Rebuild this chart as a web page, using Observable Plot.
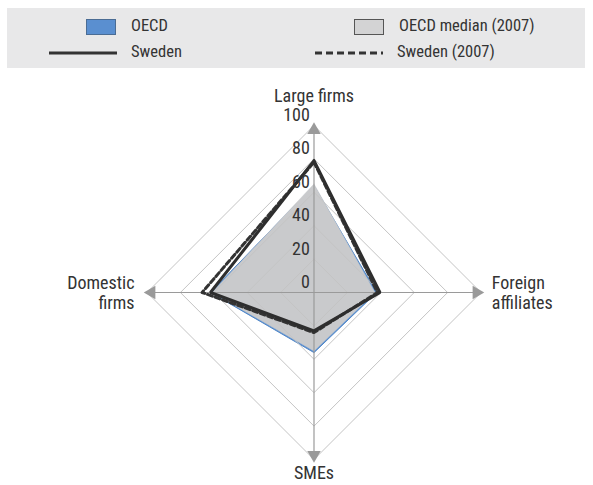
<!DOCTYPE html>
<html><head><meta charset="utf-8">
<script src="https://cdn.jsdelivr.net/npm/d3@7"></script>
<script src="https://cdn.jsdelivr.net/npm/@observablehq/plot@0.6"></script>
<style>
html,body{margin:0;background:#fff;overflow:hidden;}
body{font-family:"Roboto Condensed","DejaVu Sans Condensed","Liberation Sans Narrow","DejaVu Sans",sans-serif;font-stretch:condensed;color:#333;}
#legend{position:relative;margin:8px 8px 0 7px;height:60px;background:#e8e8e9;font-size:16.5px;}
#legend .it{position:absolute;line-height:18px;}
#legend svg{position:absolute;left:0;top:0;}
#chart{margin-top:2px;}
</style></head>
<body>
<div id="legend"></div>
<div id="chart"></div>
<script>
const axes = ["Large firms", "Foreign affiliates", "SMEs", "Domestic firms"];
const dirs = [[0,1],[1,0],[0,-1],[-1,0]];
const oecd = [64, 37.5, 36, 62];
const oecdMedian2007 = [65, 36.5, 35, 61];
const sweden = [79, 39.5, 23, 62];
const sweden2007 = [78, 38, 24, 67];
const ticks = [0, 20, 40, 60, 80, 100];

const FONT = '"Roboto Condensed","DejaVu Sans Condensed","Liberation Sans Narrow","DejaVu Sans",sans-serif';

const legendItems = [
  {label:"OECD", kind:"fill", color:"#5a8fd0", border:"#4a6c94", x:79, y:19},
  {label:"OECD median (2007)", kind:"fill", color:"#d3d3d4", border:"#555", x:347, y:19},
  {label:"Sweden", kind:"solid", x:42, y:45},
  {label:"Sweden (2007)", kind:"dash", x:308, y:45}
];
const leg = document.getElementById("legend");
const NS = "http://www.w3.org/2000/svg";
const lsvg = document.createElementNS(NS, "svg");
lsvg.setAttribute("width", 578); lsvg.setAttribute("height", 60);
leg.appendChild(lsvg);
for (const it of legendItems) {
  if (it.kind === "fill") {
    const r = document.createElementNS(NS, "rect");
    r.setAttribute("x", it.x + 0.5); r.setAttribute("y", it.y - 7.5);
    r.setAttribute("width", 29); r.setAttribute("height", 15);
    r.setAttribute("fill", it.color); r.setAttribute("stroke", it.border);
    lsvg.appendChild(r);
  } else {
    const l = document.createElementNS(NS, "line");
    l.setAttribute("x1", it.x); l.setAttribute("x2", it.x + 68);
    l.setAttribute("y1", it.y); l.setAttribute("y2", it.y);
    l.setAttribute("stroke", "#333"); l.setAttribute("stroke-width", 3);
    if (it.kind === "dash") l.setAttribute("stroke-dasharray", "7,4");
    lsvg.appendChild(l);
  }
  const t = document.createElement("div"); t.className="it";
  t.textContent = it.label;
  Object.assign(t.style,{left:(it.kind==="fill"? it.x+45 : it.x+82)+"px", top:(it.y-10)+"px"});
  leg.appendChild(t);
}

function poly(vals, name) {
  const pts = vals.map((v,i)=>({x:v*dirs[i][0], y:v*dirs[i][1], s:name}));
  pts.push({...pts[0]});
  return pts;
}
const rings = [];
for (const r of ticks.slice(1)) {
  for (let i=0;i<=4;i++){ const d=dirs[i%4]; rings.push({x:r*d[0], y:r*d[1], r}); }
}
const spokes = dirs.map((d,i)=>({x1:0,y1:0,x2:100*d[0],y2:100*d[1]}));
const heads = dirs.map((d,i)=>({x:97.3*d[0], y:97.3*d[1], rot:[0,90,180,270][i]}));
const tickLabels = ticks.map(t=>({x:-2.5, y:t+2.5, t:String(t)}));
const labelsMiddle = [
  {x:0, y:117.5, t:"Large firms"},
  {x:0, y:-108.5, t:"SMEs"}
];
const labelsStart = [{x:106.5, y:0, t:"Foreign\naffiliates"}];
const labelsEnd = [{x:-107.5, y:0, t:"Domestic\nfirms"}];

const plot = Plot.plot({
  width: 593, height: 415,
  marginLeft: 146.5, marginRight: 112.5, marginTop: 55, marginBottom: 26,
  x: {domain:[-100,100], axis:null},
  y: {domain:[-100,100], axis:null},
  style: {fontFamily: FONT, fontStretch:"condensed", color:"#333", background:"#fff", maxWidth:"none"},
  marks: [
    Plot.line(poly(oecd,"OECD"), {x:"x", y:"y", fill:"#5a8fd0", stroke:"#4f86c8", strokeWidth:1}),
    Plot.line(poly(oecdMedian2007,"median"), {x:"x", y:"y", fill:"#c9cacc", stroke:"#c9cacc", strokeWidth:0.5}),
    Plot.line(rings, {x:"x", y:"y", z:"r", stroke:"#c4c4c4", strokeWidth:1, curve:"linear"}),
    Plot.link(spokes, {x1:"x1", y1:"y1", x2:"x2", y2:"y2", stroke:"#9a9a9a", strokeWidth:1.2}),
    Plot.dot(heads, {x:"x", y:"y", symbol:"triangle", rotate:"rot", r:5, fill:"#9a9a9a", stroke:"none"}),
    Plot.line(poly(sweden2007,"Sweden 2007"), {x:"x", y:"y", stroke:"#333", strokeWidth:3, strokeDasharray:"5,3"}),
    Plot.line(poly(sweden,"Sweden"), {x:"x", y:"y", stroke:"#2e2e2e", strokeWidth:3, strokeLinejoin:"miter"}),
    Plot.text(tickLabels, {x:"x", y:"y", text:"t", textAnchor:"end", dy:-6, fontSize:18, fill:"#333"}),
    Plot.text(labelsMiddle, {x:"x", y:"y", text:"t", textAnchor:"middle", fontSize:18, fill:"#333"}),
    Plot.text(labelsStart, {x:"x", y:"y", text:"t", textAnchor:"start", fontSize:18, fill:"#333", lineHeight:1.15}),
    Plot.text(labelsEnd, {x:"x", y:"y", text:"t", textAnchor:"end", fontSize:18, fill:"#333", lineHeight:1.15})
  ]
});
document.getElementById("chart").appendChild(plot);
</script>
</body></html>
